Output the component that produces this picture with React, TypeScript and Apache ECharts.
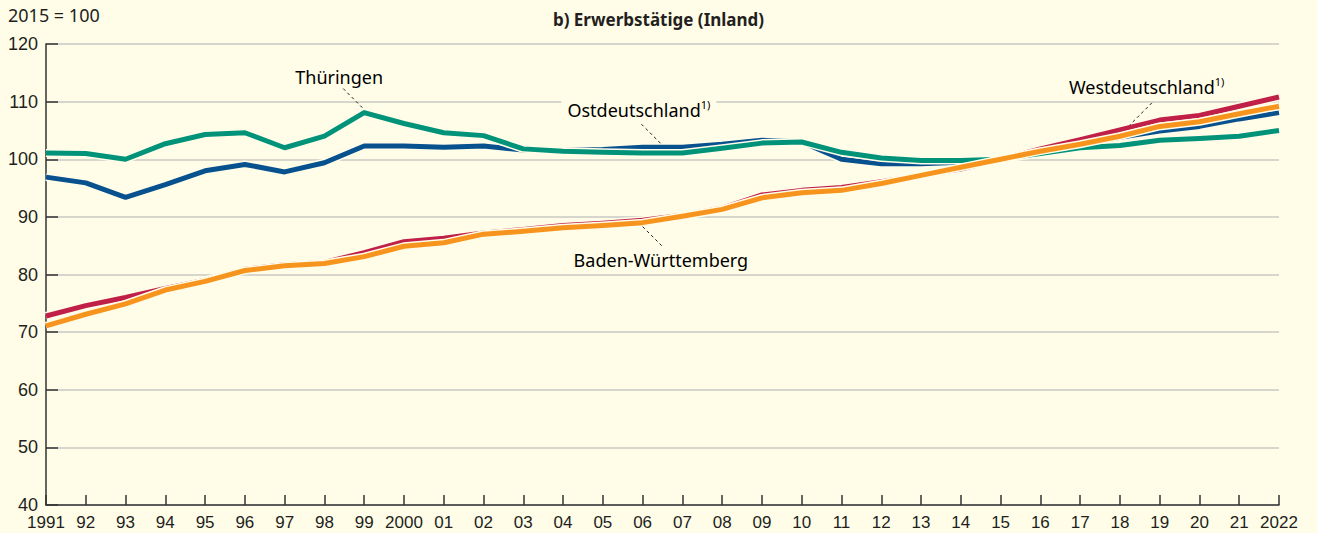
import React, { useEffect, useRef } from "react";
import * as echarts from "echarts";

const years = ["1991","92","93","94","95","96","97","98","99","2000","01","02","03","04","05","06","07","08","09","10","11","12","13","14","15","16","17","18","19","20","21","2022"];
const yTicks = { min: 40, max: 120, interval: 10 };

const thueringen = [101.1,101.0,100.0,102.7,104.3,104.6,102.0,104.0,108.1,106.2,104.6,104.1,101.8,101.4,101.2,101.1,101.1,101.9,102.8,103.0,101.2,100.2,99.8,99.8,100.0,101.0,102.0,102.4,103.3,103.6,104.0,105.0];
const ostdeutschland = [96.9,95.9,93.4,95.6,98.0,99.1,97.8,99.4,102.3,102.3,102.1,102.3,101.6,101.5,101.7,102.1,102.1,102.6,103.3,103.0,100.0,99.2,99.2,99.5,100.0,101.2,102.4,103.8,104.9,105.7,107.0,108.1];
const westdeutschland = [72.8,74.6,76.0,77.6,79.0,80.9,81.7,82.1,83.8,85.7,86.3,87.2,87.8,88.5,88.9,89.4,90.3,91.5,93.8,94.6,95.1,96.1,97.2,98.3,100.0,101.8,103.4,105.1,106.8,107.6,109.2,110.8];
const badenWuerttemberg = [71.1,73.1,74.9,77.3,78.8,80.7,81.5,81.9,83.1,84.9,85.5,87.0,87.5,88.1,88.5,89.0,90.1,91.3,93.3,94.2,94.6,95.8,97.2,98.6,100.0,101.4,102.6,104.0,105.7,106.5,107.9,109.2];

const BG = "#fffde8";
const FONT = "Liberation Sans, Arial, sans-serif";
const FONT2 = "Noto Sans, Liberation Sans, sans-serif";
const TEXT = "#231f20";

const C_TEAL = "#00937a";
const C_BLUE = "#08518f";
const C_RED = "#c01f48";
const C_ORANGE = "#f7941d";

function lineSeries(name: string, data: number[], color: string, halo: boolean) {
  return {
    type: "line",
    name: halo ? name + "-halo" : name,
    data,
    symbol: "none",
    silent: true,
    lineStyle: { color: halo ? BG : color, width: halo ? 8 : 5, join: "round", cap: "butt" },
  };
}

export default function App() {
  const ref = useRef<HTMLDivElement>(null);
  useEffect(() => {
    const chart = echarts.init(ref.current!, null, { renderer: "svg" });
    chart.setOption({
      animation: false,
      backgroundColor: BG,
      textStyle: { fontFamily: FONT },
      title: {
        text: "b) Erwerbstätige (Inland)",
        left: "center",
        top: 6,
        textStyle: { fontSize: 17, fontWeight: "bold", color: TEXT, fontFamily: FONT2 },
      },
      grid: { left: 46, right: 38, top: 44, bottom: 28, containLabel: false },
      xAxis: {
        type: "category",
        data: years,
        boundaryGap: false,
        axisLine: { lineStyle: { color: "#333", width: 1.5 } },
        axisTick: { inside: true, length: 10, interval: 0, lineStyle: { color: "#333", width: 1.5 } },
        axisLabel: { interval: 0, fontSize: 17, color: TEXT, margin: 9, fontFamily: FONT },
        splitLine: { show: false },
      },
      yAxis: {
        type: "value",
        min: yTicks.min,
        max: yTicks.max,
        interval: yTicks.interval,
        axisLine: { show: true, lineStyle: { color: "#333", width: 1.5 } },
        axisTick: { show: true, inside: true, length: 12, lineStyle: { color: "#333", width: 1.5 } },
        axisLabel: { fontSize: 18, color: TEXT, margin: 8, fontFamily: FONT },
        splitLine: { lineStyle: { color: "#c8c8c4", width: 1.5 } },
      },
      series: [
        lineSeries("Ostdeutschland", ostdeutschland, C_BLUE, true),
        lineSeries("Ostdeutschland", ostdeutschland, C_BLUE, false),
        lineSeries("Thüringen", thueringen, C_TEAL, true),
        lineSeries("Thüringen", thueringen, C_TEAL, false),
        lineSeries("Westdeutschland", westdeutschland, C_RED, true),
        lineSeries("Westdeutschland", westdeutschland, C_RED, false),
        lineSeries("Baden-Württemberg", badenWuerttemberg, C_ORANGE, true),
        lineSeries("Baden-Württemberg", badenWuerttemberg, C_ORANGE, false),
      ],
    });

    const px = (i: number, v: number) =>
      chart.convertToPixel({ xAxisIndex: 0, yAxisIndex: 0 }, [i, v]) as number[];

    const rich = {
      a: { fontSize: 18, color: TEXT, fontFamily: FONT2, lineHeight: 22 },
      s: { fontSize: 11, color: TEXT, fontFamily: FONT2, verticalAlign: "top", lineHeight: 12 },
    };
    const leader = (x1: number, y1: number, x2: number, y2: number) => ({
      type: "line",
      silent: true,
      z: 20,
      shape: { x1, y1, x2, y2 },
      style: { stroke: "#231f20", lineWidth: 1, lineDash: [3, 3] },
    });
    const label = (x: number, y: number, text: string, align: string, bg: boolean) => ({
      type: "text",
      silent: true,
      z: 21,
      x,
      y,
      style: {
        text,
        rich,
        align,
        verticalAlign: "middle",
        backgroundColor: bg ? BG : undefined,
        padding: bg ? [0, 6] : 0,
      },
    });

    const th = px(8, thueringen[8]);
    const od = px(16, ostdeutschland[16]);
    const wd = px(27, westdeutschland[27]);
    const bw = px(15, badenWuerttemberg[15]);

    chart.setOption({
      graphic: [
        {
          type: "text",
          left: 8,
          top: 6,
          silent: true,
          style: { text: "2015 = 100", fontSize: 18, fill: TEXT, fontFamily: FONT2 },
        },
        leader(th[0] - 21, th[1] - 24, th[0] - 1, th[1] - 4),
        label(th[0] - 25, th[1] - 36, "{a|Thüringen}", "center", false),
        leader(od[0] - 41, od[1] - 23, od[0] - 20, od[1] - 2),
        label(od[0] - 121, od[1] - 37, "{a|Ostdeutschland}{s|1)}", "left", true),
        leader(wd[0] + 32, wd[1] - 27, wd[0] + 10, wd[1] - 5),
        label(wd[0] - 51, wd[1] - 43, "{a|Westdeutschland}{s|1)}", "left", false),
        leader(bw[0], bw[1] + 4, bw[0] + 21, bw[1] + 25),
        label(bw[0] - 69, bw[1] + 37, "{a|Baden-Württemberg}", "left", false),
      ],
    });

    return () => chart.dispose();
  }, []);
  return (
    <div
      ref={ref}
      style={{ position: "absolute", left: 0, top: 0, width: 1317, height: 533, background: BG }}
    />
  );
}
